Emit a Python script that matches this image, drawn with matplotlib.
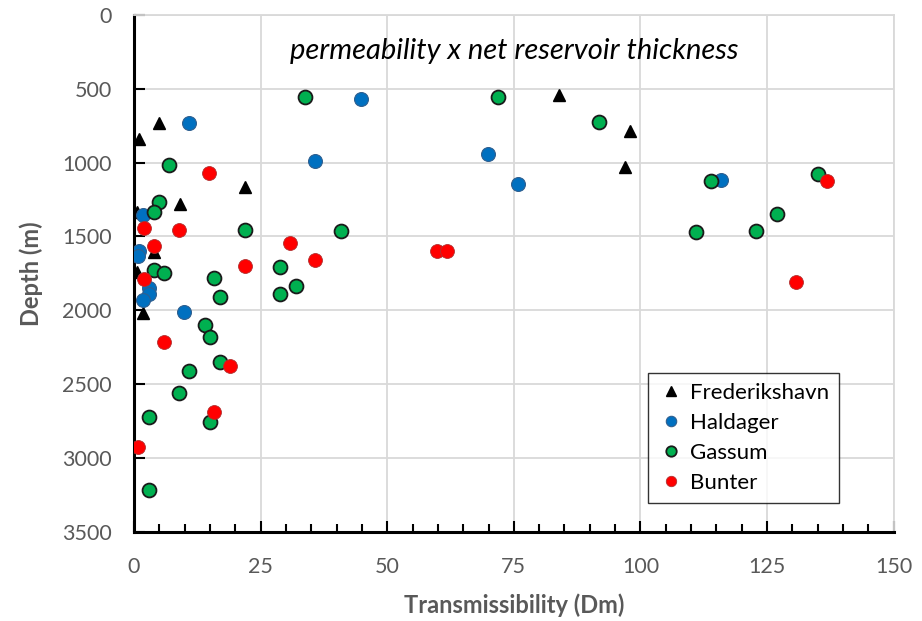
import matplotlib
matplotlib.use("Agg")
import matplotlib.pyplot as plt
import numpy as np

plt.rcParams['font.family'] = ['Lato', 'DejaVu Sans']

# transmissibility (Dm) and depth (m) per formation
fred_x = [4.9, 0.9, 21.9, 9.0, 0.6, 3.9, 0.6, 1.8, 83.9, 97.9, 96.9]
fred_y = [736, 839, 1169, 1282, 1338, 1607, 1738, 2018, 545, 787, 1028]

hald_x = [10.8, 1.8, 0.9, 0.8, 3.0, 3.0, 1.8, 9.8, 44.9, 35.8, 69.9, 75.9, 116.0]
hald_y = [736, 1356, 1596, 1630, 1850, 1888, 1933, 2011, 567, 992, 940, 1147, 1118]

gass_x = [6.9, 4.9, 3.9, 21.9, 28.9, 3.9, 5.9, 15.9, 31.9, 28.9, 16.9, 14.0, 15.0,
          16.9, 10.9, 8.9, 15.0, 2.9, 2.9, 33.8, 71.9, 40.9, 91.9, 114.0, 135.0,
          127.0, 110.9, 122.9]
gass_y = [1014, 1270, 1338, 1455, 1708, 1726, 1747, 1780, 1836, 1888, 1910, 2097, 2180,
          2348, 2409, 2557, 2753, 2719, 3214, 556, 556, 1464, 725, 1124, 1080,
          1349, 1468, 1464]

bunt_x = [14.8, 1.9, 8.9, 3.9, 30.9, 21.9, 1.9, 5.9, 18.9, 15.9, 0.8, 35.8, 59.8, 61.9,
          136.8, 130.8]
bunt_y = [1073, 1445, 1455, 1565, 1544, 1701, 1787, 2214, 2375, 2685, 2928, 1657, 1598, 1598,
          1122, 1809]

fig = plt.figure(figsize=(9.22, 6.21), dpi=100)
ax = fig.add_axes([0.1453, 0.1433, 0.824, 0.8330])

ax.plot(fred_x, fred_y, '^', color='black', markersize=9, linestyle='none',
        label='Frederikshavn', zorder=3)
ax.plot(hald_x, hald_y, 'o', color='#0070C0', markeredgecolor='#2F5F8F', markeredgewidth=0.8,
        markersize=10, linestyle='none', label='Haldager', zorder=3)
ax.plot(gass_x, gass_y, 'o', color='#00B050', markeredgecolor='#1A1A1A', markeredgewidth=1.3,
        markersize=10, linestyle='none', label='Gassum', zorder=3)
ax.plot(bunt_x, bunt_y, 'o', color='#FF0000', markeredgecolor='#B03030', markeredgewidth=0.6,
        markersize=10, linestyle='none', label='Bunter', zorder=3)

ax.set_xlim(0, 150)
ax.set_ylim(3500, 0)
ax.set_xticks(np.arange(0, 151, 25))
ax.set_xticks(np.arange(0, 151, 5), minor=True)
ax.set_yticks(np.arange(0, 3501, 500))

ax.grid(True, which='major', color='#D9D9D9', linewidth=1.3, zorder=0)
ax.set_axisbelow(True)

for s in ['top', 'right']:
    ax.spines[s].set_color('#D9D9D9')
    ax.spines[s].set_linewidth(1.3)
for s in ['left', 'bottom']:
    ax.spines[s].set_color('black')
    ax.spines[s].set_linewidth(2.2)

ax.tick_params(axis='both', which='major', direction='in', length=8, width=1.5,
               labelsize=15.5, labelcolor='#595959', color='black')
ax.tick_params(axis='x', which='minor', direction='in', length=6, width=1.5, color='black')
ax.tick_params(axis='x', which='major', pad=18)
ax.tick_params(axis='y', which='major', pad=16)

ax.set_xlabel('Transmissibility (Dm)', fontsize=17, fontweight='bold', color='#595959', labelpad=12)
ax.set_ylabel('Depth (m)', fontsize=17, fontweight='bold', color='#595959', labelpad=14)

ax.text(0.5, 0.93, 'permeability x net reservoir thickness', transform=ax.transAxes,
        ha='center', va='center', fontsize=21, style='italic', color='black')

leg = ax.legend(loc='lower right', bbox_to_anchor=(0.928, 0.056), borderaxespad=0,
                fontsize=16, frameon=True, fancybox=False, edgecolor='black',
                handletextpad=0.25, borderpad=0.45, labelspacing=0.45, handlelength=1.2,
                markerscale=0.75)
leg.get_frame().set_linewidth(1.0)

fig.savefig('out.png', dpi=100)
